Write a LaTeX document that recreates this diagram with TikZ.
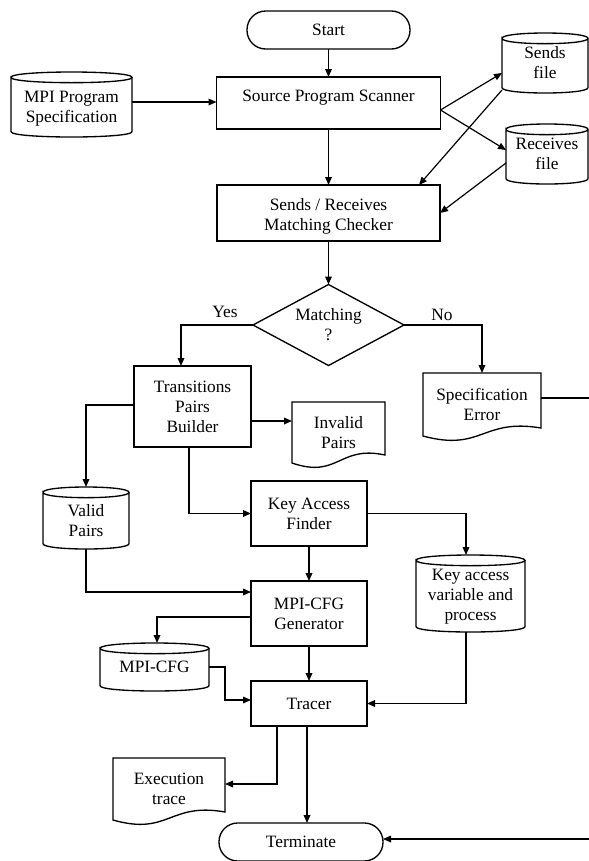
\documentclass[tikz,border=0pt]{standalone}
\usepackage{fontspec}
\setmainfont{Liberation Serif}
\usetikzlibrary{arrows.meta,calc}
\newdimen\pxu \pxu=0.75pt
\newcommand\docdraw[1]{\draw[shp] (#1.south west) .. controls ($(#1.south)+(0,16)$) and ($(#1.south)+(0,-18)$) .. ($(#1.south east)+(0,-8)$) -- (#1.north east) -- (#1.north west) -- cycle;}
\newcommand\cyldraw[1]{\draw[shp] ([yshift=-4pt]#1.north west) .. controls ([yshift=1.333pt]#1.north west) and ([yshift=1.333pt]#1.north east) .. ([yshift=-4pt]#1.north east) .. controls ([yshift=-9.333pt]#1.north east) and ([yshift=-9.333pt]#1.north west) .. ([yshift=-4pt]#1.north west) -- ([yshift=4pt]#1.south west) .. controls ([yshift=-1.333pt]#1.south west) and ([yshift=-1.333pt]#1.south east) .. ([yshift=4pt]#1.south east) -- ([yshift=-4pt]#1.north east);}
\begin{document}
\begin{tikzpicture}[x=0.75pt,y=-0.75pt,
  base/.style={font=\fontsize{13}{15}\selectfont, align=center, inner sep=0pt, outer sep=0pt},
  proc/.style={base, draw, line width=1pt},
  ghost/.style={base},
  termbox/.style={base, draw, line width=1pt, rounded corners=14pt},
  shp/.style={line width=1pt},
  ln/.style={line width=0.9pt},
  arr/.style={line width=0.9pt, -{Triangle[length=6pt,width=5pt]}},
  sz/.style 2 args={minimum width=#1\pxu, minimum height=#2\pxu}]
\fill[white] (0,0) rectangle (589,861);
\useasboundingbox (0,0) rectangle (589,861);

% nodes
\node[termbox, sz={163}{38}] (start) at (328.5,30) {Start};
\node[proc, sz={224}{52}, text height=9pt, text depth=12pt] (scan) at (328.5,103) {Source Program Scanner};
\node[ghost, sz={121}{65}] (mpi) at (71.5,104.5) {\rule{0pt}{15pt}MPI Program\\Specification};
\node[ghost, sz={86}{60}] (sends) at (545,63) {Sends\\file};
\node[ghost, sz={82}{60}] (recv) at (547,154) {Receives\\file};
\node[proc, sz={223}{56}] (check) at (328.5,213) {\rule{0pt}{14pt}Sends / Receives\\Matching Checker};
\node[ghost, sz={151}{81}] (dia) at (328.5,325) {Matching\\?};
\node[base] (yes) at (225,312) {Yes};
\node[base] (no) at (442,315) {No};
\node[proc, sz={117}{81}] (trans) at (192.5,406.5) {Transitions\\Pairs\\Builder};
\node[ghost, sz={118}{63}] (spec) at (482,404.5) {Specification\\Error};
\node[ghost, sz={93}{61}] (inval) at (338.5,432.5) {Invalid\\Pairs};
\node[ghost, sz={86}{62}] (valid) at (86,518) {\rule{0pt}{13pt}Valid\\Pairs};
\node[proc, sz={116}{65}] (kaf) at (309,513.5) {Key Access\\Finder};
\node[ghost, sz={109}{77}] (keyv) at (470.5,593.5) {\rule{0pt}{14pt}Key access\\variable and\\process};
\node[proc, sz={116}{65}] (gen) at (309,613.5) {MPI-CFG\\Generator};
\node[ghost, sz={109}{48}] (cfg) at (154.5,667) {MPI-CFG};
\node[proc, sz={116}{45}] (tracer) at (309,703.5) {Tracer};
\node[ghost, sz={112}{62}] (exec) at (169,789) {Execution\\trace};
\node[termbox, sz={164}{38}] (term) at (301,842) {Terminate};

% custom outlines
\cyldraw{mpi}
\cyldraw{sends}
\cyldraw{recv}
\cyldraw{valid}
\cyldraw{keyv}
\cyldraw{cfg}
\draw[shp] (dia.north) -- (dia.east) -- (dia.south) -- (dia.west) -- cycle;
\docdraw{spec}
\docdraw{inval}
\docdraw{exec}

% connectors
\draw[arr] (start.south) -- (scan.north);
\draw[arr] (mpi.east |- 0,102) -- (scan.west |- 0,102);
\coordinate (so) at (scan.east |- 0,110);
\draw[arr] (so) -- (sends.west |- 0,73);
\draw[arr] (so) -- (recv.west |- 0,150);
\draw[arr] (sends.west |- 0,90) -- (check.north -| 419,0);
\draw[arr] (recv.west |- 0,163) -- (check.east |- 0,213);
\draw[arr] (scan.south) -- (check.north);
\draw[arr] (check.south) -- (dia.north);
\draw[arr] (dia.west) -| (trans.north -| 181,0);
\draw[arr] (dia.east) -| (spec.north);
\coordinate (edge1) at (589,398);
\draw[ln] (spec.east |- edge1) -- (edge1);
\draw[arr] (trans.east |- 0,421) -- (inval.west |- 0,421);
\draw[arr] (trans.west |- 0,405) -| (valid.north);
\draw[arr] (trans.south -| 189,0) |- (kaf.west);
\draw[arr] (kaf.east) -| (keyv.north -| 466,0);
\draw[arr] (kaf.south) -- (gen.north);
\draw[arr] (valid.south) |- (gen.west |- 0,592);
\draw[arr] (gen.west |- 0,617) -| (cfg.north -| 157,0);
\draw[arr] (cfg.east) -- ++(16,0) |- (tracer.west |- 0,700);
\draw[arr] (gen.south) -- (tracer.north);
\draw[arr] (keyv.south -| 466,0) |- (tracer.east);
\draw[arr] (tracer.south -| 277,0) |- (exec.east |- 0,784);
\draw[arr] (tracer.south -| 307,0) -- (term.north -| 307,0);
\coordinate (edge2) at (589,839);
\draw[arr] (edge2) -- (term.east |- edge2);
\end{tikzpicture}
\end{document}
